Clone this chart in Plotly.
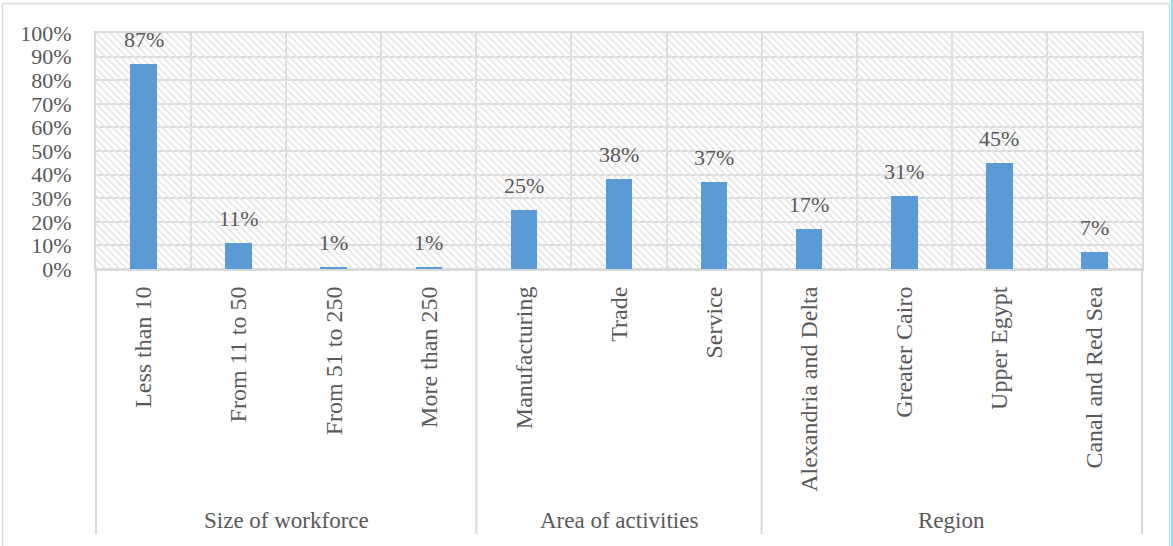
import plotly.graph_objects as go

# Survey breakdown of firms by workforce size, activity and region
categories = [
    "Less than 10", "From 11 to 50", "From 51 to 250", "More than 250",
    "Manufacturing", "Trade", "Service",
    "Alexandria and Delta", "Greater Cairo", "Upper Egypt", "Canal and Red Sea",
]
shares = [0.87, 0.11, 0.01, 0.01, 0.25, 0.38, 0.37, 0.17, 0.31, 0.45, 0.07]
groups = ["Size of workforce", "Area of activities", "Region"]
group_sizes = [4, 3, 4]

FONT = "Liberation Serif"
TEXT = "#595959"
GRID = "#d9d9d9"
BAR = "#5b9bd5"

W, H = 1173, 546
ML, MR, MT, MB = 96, 31, 33, 277
plot_w = W - ML - MR
plot_h = H - MT - MB

n = len(categories)
x_idx = list(range(n))
x_range = [-0.5, n - 0.5]


def px_to_paper_x(px):
    return (px - ML) / plot_w


def px_to_paper_y(py):
    return (H - MB - py) / plot_h


def data_to_paper_x(x):
    return (x - x_range[0]) / (x_range[1] - x_range[0])


fig = go.Figure()

# hatched plot-area background
fig.add_trace(go.Bar(
    x=[(x_range[0] + x_range[1]) / 2], y=[1.0], width=[x_range[1] - x_range[0]],
    marker=dict(color="rgba(0,0,0,0)", line=dict(width=0),
                pattern=dict(shape="\\", fgcolor="#e6e6e6", bgcolor="rgba(0,0,0,0)",
                             size=5, solidity=0.35, fillmode="replace")),
    hoverinfo="skip", showlegend=False,
))

# data bars
fig.add_trace(go.Bar(
    x=x_idx, y=shares, width=0.28,
    marker=dict(color=BAR, line=dict(width=0)),
    showlegend=False,
))

# value labels above bars
for i, v in enumerate(shares):
    fig.add_annotation(
        x=i, y=v, xref="x", yref="y", text=f"{round(v * 100)}%",
        showarrow=False, yanchor="bottom", yshift=10,
        font=dict(family=FONT, size=22, color=TEXT),
    )

# group boundaries and labels below the axis
bounds = [x_range[0]]
for s in group_sizes:
    bounds.append(bounds[-1] + s)
for b in bounds:
    fig.add_shape(type="line", xref="paper", yref="paper",
                  x0=data_to_paper_x(b), x1=data_to_paper_x(b),
                  y0=0, y1=px_to_paper_y(534),
                  line=dict(color=GRID, width=2))
for g, a, b in zip(groups, bounds[:-1], bounds[1:]):
    fig.add_annotation(
        x=(a + b) / 2, y=px_to_paper_y(520), xref="x", yref="paper",
        text=g, showarrow=False, yanchor="middle",
        font=dict(family=FONT, size=23, color=TEXT),
    )

# outer chart frame
fig.add_shape(type="rect", xref="paper", yref="paper",
              x0=px_to_paper_x(2.5), x1=px_to_paper_x(1169.5),
              y0=px_to_paper_y(548), y1=px_to_paper_y(3.5),
              line=dict(color=GRID, width=1.5), layer="below")
fig.add_shape(type="line", xref="paper", yref="paper",
              x0=px_to_paper_x(1172), x1=px_to_paper_x(1172),
              y0=px_to_paper_y(0), y1=px_to_paper_y(546),
              line=dict(color="#33e6ff", width=1.5))

fig.update_layout(
    width=W, height=H,
    margin=dict(l=ML, r=MR, t=MT, b=MB, autoexpand=False),
    paper_bgcolor="white", plot_bgcolor="white",
    barmode="overlay", bargap=0,
    font=dict(family=FONT, color=TEXT),
)

fig.update_xaxes(
    range=x_range, tickmode="array", tickvals=x_idx, ticktext=categories,
    tickangle=-90, tickfont=dict(family=FONT, size=24, color=TEXT),
    showgrid=False, zeroline=False, ticks="", ticklabelstandoff=6,
    showline=True, linecolor=GRID, linewidth=2, mirror=True,
    minor=dict(tickvals=[b + 0.5 for b in range(n - 1)], showgrid=True,
               gridcolor=GRID, gridwidth=2, ticks=""),
    automargin=False, fixedrange=True,
)
fig.update_yaxes(
    range=[0, 1], dtick=0.1, tick0=0, tickformat=".0%",
    tickfont=dict(family=FONT, size=22, color=TEXT),
    showgrid=True, gridcolor=GRID, gridwidth=2,
    zeroline=True, zerolinecolor=GRID, zerolinewidth=2,
    showline=True, linecolor=GRID, linewidth=2, mirror=True,
    ticks="", ticklabelstandoff=18, automargin=False, fixedrange=True,
)

fig.write_html("out.html", config={"displayModeBar": False})
